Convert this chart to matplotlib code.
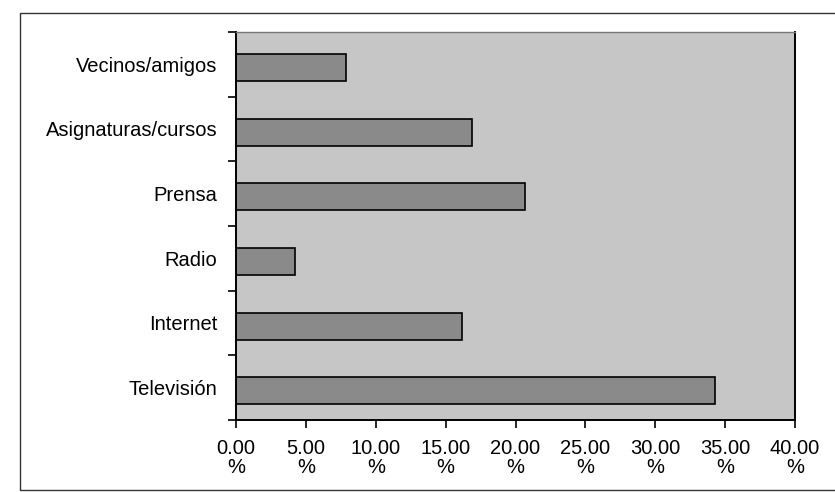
import numpy as np
import matplotlib
matplotlib.use('Agg')
import matplotlib.pyplot as plt
from matplotlib.patches import Rectangle

# Data (percent)
categories = ['Televisión', 'Internet', 'Radio', 'Prensa', 'Asignaturas/cursos', 'Vecinos/amigos']
values = [34.3, 16.2, 4.2, 20.7, 16.9, 7.9]
x_ticks = [0, 5, 10, 15, 20, 25, 30, 35, 40]
x_tick_labels = [f'{t:.2f}\n%' for t in x_ticks]

plt.rcParams['font.family'] = ['Liberation Sans', 'DejaVu Sans']

fig = plt.figure(figsize=(8.35, 4.92), dpi=100)
ax = fig.add_axes([236 / 835, 1 - 420 / 492, (795 - 236) / 835, (420 - 32) / 492])

ax.set_facecolor('#c6c6c6')
pos = np.arange(len(categories))
ax.barh(pos - 0.05, values, height=0.42, color='#8a8a8a', edgecolor='black', linewidth=1.2)

ax.set_xlim(0, 40)
ax.set_ylim(-0.5, len(categories) - 0.5)
ax.set_xticks(x_ticks)
ax.set_xticklabels(x_tick_labels, fontsize=14.5, linespacing=1.0)

# category names in the middle, tick marks on the boundaries
ax.set_yticks(pos)
ax.set_yticklabels(categories, fontsize=14.5)
ax.tick_params(axis='y', which='major', length=0, pad=13.5)
ax.set_yticks(np.arange(-0.5, len(categories)), minor=True)
ax.tick_params(axis='y', which='minor', length=6, width=1.2, direction='out')
ax.tick_params(axis='x', length=6, width=1.2, direction='out', pad=8)

for side in ['left', 'bottom', 'right']:
    ax.spines[side].set_linewidth(1.4)
ax.spines['top'].set_color('#777777')
ax.spines['top'].set_linewidth(1.0)

# outer chart frame
fig.patches.append(Rectangle((20 / 835, 0.005), 1.0, 1 - 13 / 492 - 0.005,
                             transform=fig.transFigure, fill=False,
                             edgecolor='#333333', linewidth=1.0))

fig.savefig('out.png', dpi=100)
